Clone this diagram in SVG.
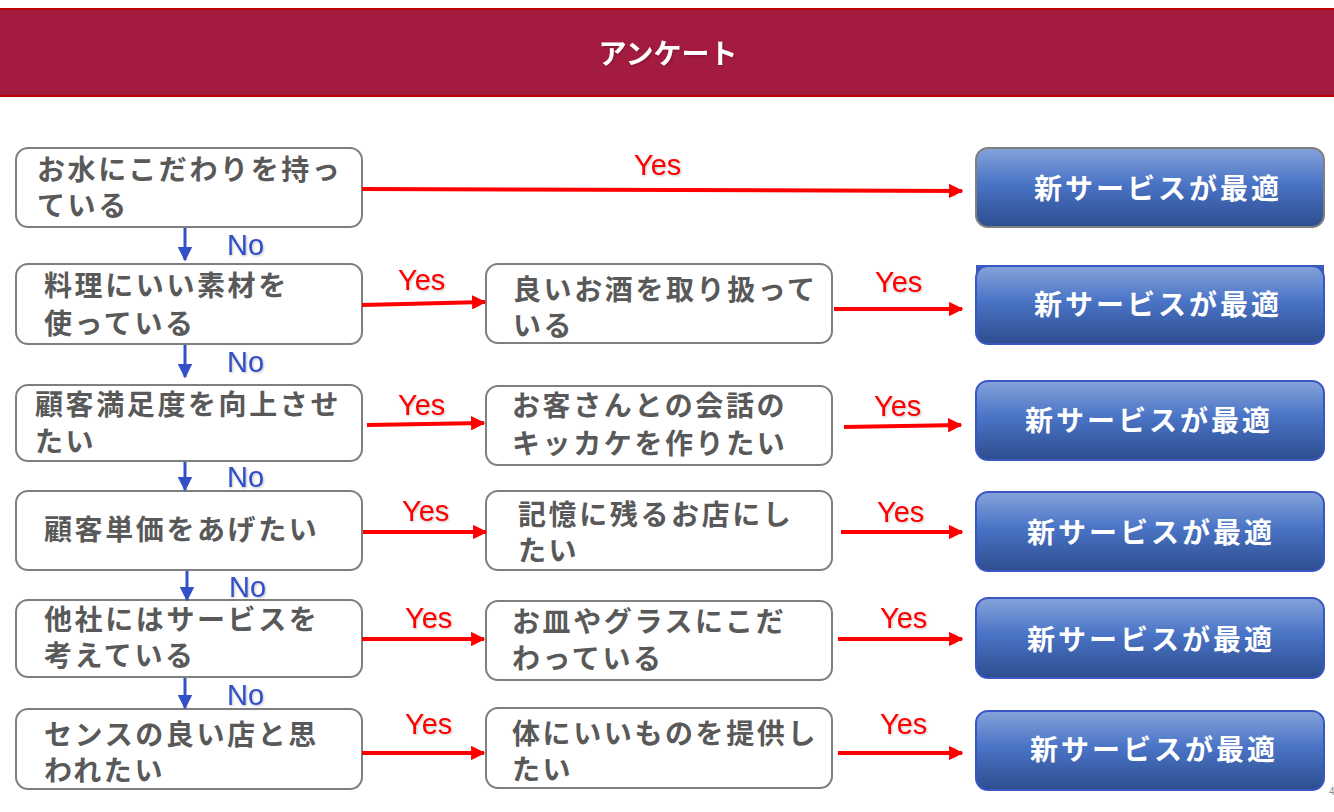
<svg xmlns="http://www.w3.org/2000/svg" width="1334" height="812" viewBox="0 0 1334 812">
<defs>
<style>
.q{fill:#fff;stroke:#7f7f7f;stroke-width:2}
.t{font-family:"Noto Sans CJK JP","Noto Sans CJK SC",sans-serif;font-size:28px;font-weight:700;fill:#595959;letter-spacing:2.6px}
.r{stroke:#3a56c4;stroke-width:2}
.w{font-family:"Noto Sans CJK JP","Noto Sans CJK SC",sans-serif;font-size:28px;font-weight:700;fill:#fff;letter-spacing:3px;text-anchor:middle}
.y{font-family:"Liberation Sans",Arial,sans-serif;font-size:29px;fill:#ff0000}
.n{font-family:"Liberation Sans",Arial,sans-serif;font-size:29px;fill:#3050c8}
.ra{stroke:#ff0000;stroke-width:4;fill:none;marker-end:url(#ar)}
.ba{stroke:#3350c8;stroke-width:3;fill:none;marker-end:url(#ab)}
</style>
<linearGradient id="g" x1="0" y1="0" x2="0" y2="1">
<stop offset="0" stop-color="#85a3da"/>
<stop offset="0.45" stop-color="#4a74c6"/>
<stop offset="1" stop-color="#2d4d8e"/>
</linearGradient>
<marker id="ar" viewBox="0 0 10 10" refX="9" refY="5" markerWidth="3.6" markerHeight="3.6" orient="auto" markerUnits="strokeWidth">
<path d="M0,0 L10,5 L0,10 z" fill="#ff0000"/>
</marker>
<marker id="ab" viewBox="0 0 10 10" refX="9" refY="5" markerWidth="5" markerHeight="5" orient="auto" markerUnits="strokeWidth">
<path d="M0,0 L10,5 L0,10 z" fill="#3350c8"/>
</marker>
<filter id="sh" x="-20%" y="-20%" width="140%" height="140%">
<feDropShadow dx="1" dy="1" stdDeviation="0.8" flood-color="#000" flood-opacity="0.25"/>
</filter>
</defs>
<rect width="1334" height="812" fill="#fff"/>
<g id="header">
<rect x="0" y="8" width="1334" height="89" fill="#a31b3f"/>
<rect x="0" y="8" width="1334" height="2" fill="#c00000"/>
<rect x="0" y="95" width="1334" height="2" fill="#c00000"/>
<text x="668" y="64" text-anchor="middle" font-family="'Noto Sans CJK JP','Noto Sans CJK SC',sans-serif" font-size="28" font-weight="700" fill="#fff" filter="url(#sh)">アンケート</text>
</g>
<g id="q1"><rect class="q" x="16" y="148" width="346" height="79" rx="12"/><text class="t" x="37" y="180">お水にこだわりを持っ</text><text class="t" x="37" y="216">ている</text></g>
<g id="q2"><rect class="q" x="16" y="264" width="346" height="80" rx="12"/><text class="t" x="44" y="296">料理にいい素材を</text><text class="t" x="44" y="334">使っている</text></g>
<g id="q3"><rect class="q" x="16" y="385" width="346" height="76" rx="12"/><text class="t" x="35" y="415">顧客満足度を向上させ</text><text class="t" x="35" y="452">たい</text></g>
<g id="q4"><rect class="q" x="16" y="491" width="346" height="79" rx="12"/><text class="t" x="44" y="540">顧客単価をあげたい</text></g>
<g id="q5"><rect class="q" x="16" y="600" width="346" height="77" rx="12"/><text class="t" x="44" y="630">他社にはサービスを</text><text class="t" x="44" y="666">考えている</text></g>
<g id="q6"><rect class="q" x="16" y="709" width="346" height="80" rx="12"/><text class="t" x="44" y="745">センスの良い店と思</text><text class="t" x="44" y="781">われたい</text></g>
<g id="m2"><rect class="q" x="486" y="264" width="346" height="79" rx="12"/><text class="t" x="513" y="300">良いお酒を取り扱って</text><text class="t" x="513" y="336">いる</text></g>
<g id="m3"><rect class="q" x="486" y="386" width="346" height="79" rx="12"/><text class="t" x="512" y="416">お客さんとの会話の</text><text class="t" x="512" y="454">キッカケを作りたい</text></g>
<g id="m4"><rect class="q" x="486" y="491" width="346" height="79" rx="12"/><text class="t" x="518" y="525">記憶に残るお店にし</text><text class="t" x="518" y="561">たい</text></g>
<g id="m5"><rect class="q" x="486" y="601" width="346" height="79" rx="12"/><text class="t" x="512" y="632">お皿やグラスにこだ</text><text class="t" x="512" y="669">わっている</text></g>
<g id="m6"><rect class="q" x="486" y="708" width="346" height="80" rx="12"/><text class="t" x="512" y="744">体にいいものを提供し</text><text class="t" x="512" y="780">たい</text></g>
<g id="a1"><rect x="976" y="148" width="348" height="79" rx="12" fill="url(#g)" stroke="#7f7f7f" stroke-width="2"/><text class="w" x="1158" y="199">新サービスが最適</text></g>
<g id="a2"><rect x="976" y="265" width="348" height="18" fill="#3a5db5"/><rect class="r" x="976" y="266" width="348" height="78" rx="12" fill="url(#g)"/><text class="w" x="1158" y="315">新サービスが最適</text></g>
<g id="a3"><rect class="r" x="976" y="381" width="348" height="79" rx="12" fill="url(#g)"/><text class="w" x="1149" y="431">新サービスが最適</text></g>
<g id="a4"><rect class="r" x="976" y="492" width="348" height="79" rx="12" fill="url(#g)"/><text class="w" x="1151" y="543">新サービスが最適</text></g>
<g id="a5"><rect class="r" x="976" y="598" width="348" height="80" rx="12" fill="url(#g)"/><text class="w" x="1151" y="650">新サービスが最適</text></g>
<g id="a6"><rect class="r" x="976" y="711" width="348" height="79" rx="12" fill="url(#g)"/><text class="w" x="1154" y="760">新サービスが最適</text></g>
<g id="connectors">
<path class="ra" d="M362,189 L962,191"/>
<path class="ra" d="M362,305 L485,302"/>
<path class="ra" d="M834,309 L962,309"/>
<path class="ra" d="M367,425 L484,423"/>
<path class="ra" d="M844,427 L961,425"/>
<path class="ra" d="M363,532 L486,532"/>
<path class="ra" d="M841,532 L962,532"/>
<path class="ra" d="M362,639 L484,639"/>
<path class="ra" d="M838,639 L962,639"/>
<path class="ra" d="M362,753 L484,753"/>
<path class="ra" d="M838,753 L962,753"/>
<path class="ba" d="M185,228 L185,260"/>
<path class="ba" d="M185,345 L185,377"/>
<path class="ba" d="M185,462 L185,490"/>
<path class="ba" d="M187,571 L187,600"/>
<path class="ba" d="M185,678 L185,708"/>
</g>
<g id="labels" filter="url(#sh)">
<text class="y" x="634" y="175">Yes</text>
<text class="y" x="398" y="290">Yes</text>
<text class="y" x="875" y="292">Yes</text>
<text class="y" x="398" y="415">Yes</text>
<text class="y" x="874" y="416">Yes</text>
<text class="y" x="402" y="521">Yes</text>
<text class="y" x="877" y="522">Yes</text>
<text class="y" x="405" y="628">Yes</text>
<text class="y" x="880" y="628">Yes</text>
<text class="y" x="405" y="734">Yes</text>
<text class="y" x="880" y="734">Yes</text>
<text class="n" x="227" y="255">No</text>
<text class="n" x="227" y="372">No</text>
<text class="n" x="227" y="487">No</text>
<text class="n" x="229" y="597">No</text>
<text class="n" x="227" y="705">No</text>
</g>
<text x="1329" y="795" font-family="'Liberation Sans',Arial,sans-serif" font-size="10" fill="#8c8c8c">4</text>
</svg>
